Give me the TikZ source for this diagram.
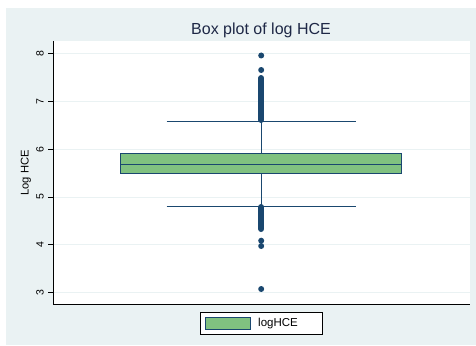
\documentclass[tikz,border=0pt]{standalone}
\usepackage{fontspec}
\setmainfont{Liberation Sans}
\usepackage{xcolor}
\usepackage{tikz}

\definecolor{bgblue}{RGB}{234,242,243}
\definecolor{gridblue}{RGB}{234,242,243}
\definecolor{navy}{RGB}{26,71,111}
\definecolor{boxgreen}{RGB}{128,193,128}
\definecolor{titleblue}{RGB}{30,40,70}

\tikzset{
    ticklab/.style={rotate=90,font=\fontsize{10.5}{12}\selectfont},
    gridln/.style={draw=gridblue,line width=1pt},
    whisk/.style={draw=navy,line width=0.9pt},
    outl/.style={draw=navy,line width=6pt,line cap=round},
    dot/.style={fill=navy,circle,inner sep=0pt,minimum size=6pt}
}

\begin{document}
\begin{tikzpicture}[x=1pt,y=-1pt]
    % canvas and graph region
    \fill[white] (0,0) rectangle (476,345);
    \fill[bgblue] (6,8) rectangle (476,345);
    \fill[white] (53,41) rectangle (470,304.5);

    % grid lines
    \draw[gridln] (53,53.3) -- (470,53.3);
    \draw[gridln] (53,101.2) -- (470,101.2);
    \draw[gridln] (53,149.1) -- (470,149.1);
    \draw[gridln] (53,197.0) -- (470,197.0);
    \draw[gridln] (53,244.8) -- (470,244.8);
    \draw[gridln] (53,292.7) -- (470,292.7);

    % axes
    \draw[black,line width=0.9pt] (53,41) -- (53,304.5) -- (470,304.5);

    % ticks and labels
    \draw[black,line width=0.7pt] (48,53.3) -- (53,53.3);
    \draw[black,line width=0.7pt] (48,101.2) -- (53,101.2);
    \draw[black,line width=0.7pt] (48,149.1) -- (53,149.1);
    \draw[black,line width=0.7pt] (48,197.0) -- (53,197.0);
    \draw[black,line width=0.7pt] (48,244.8) -- (53,244.8);
    \draw[black,line width=0.7pt] (48,292.7) -- (53,292.7);
    \node[ticklab] (t8) at (40,53.3) {8};
    \node[ticklab] (t7) at (40,101.2) {7};
    \node[ticklab] (t6) at (40,149.1) {6};
    \node[ticklab] (t5) at (40,197.0) {5};
    \node[ticklab] (t4) at (40,244.8) {4};
    \node[ticklab] (t3) at (40,292.7) {3};

    % titles
    \node[text=titleblue,font=\fontsize{16}{18}\selectfont] (title) at (261,30) {Box plot of log HCE};
    \node[rotate=90,font=\fontsize{11.2}{13}\selectfont] (ytitle) at (26,173) {Log HCE};

    % box and whiskers
    \node[draw=navy,fill=boxgreen,line width=0.9pt,minimum width=281pt,minimum height=20.7pt,inner sep=0pt] (box) at (261.2,163.35) {};
    \draw[navy,line width=0.9pt] (box.west |- 0,164) -- (box.east |- 0,164);
    \coordinate (uw) at (261.2,121.3);
    \coordinate (lw) at (261.2,206);
    \draw[whisk] (box.north) -- (uw);
    \draw[whisk] (box.south) -- (lw);
    \draw[whisk] (166.7,121.3) -- (355.7,121.3);
    \draw[whisk] (166.7,206) -- (355.7,206);

    % outside values
    \draw[outl] (261.2,78) -- (261.2,120);
    \draw[outl] (261.2,207) -- (261.2,229);
    \node[dot] (o1) at (261.2,55.5) {};
    \node[dot] (o2) at (261.2,70) {};
    \node[dot] (o3) at (261.2,240.7) {};
    \node[dot] (o4) at (261.2,246) {};
    \node[dot] (o5) at (261.2,289) {};

    % legend
    \node[draw=black,fill=white,line width=0.8pt,minimum width=122pt,minimum height=22.4pt,inner sep=0pt] (legend) at (261,323.5) {};
    \node[draw=navy,fill=boxgreen,line width=0.9pt,minimum width=45pt,minimum height=12pt,inner sep=0pt] (swatch) at (227.5,323.3) {};
    \node[anchor=west,font=\fontsize{11.5}{13}\selectfont,inner sep=0pt] (leglab) at (258,323.3) {logHCE};
\end{tikzpicture}
\end{document}
